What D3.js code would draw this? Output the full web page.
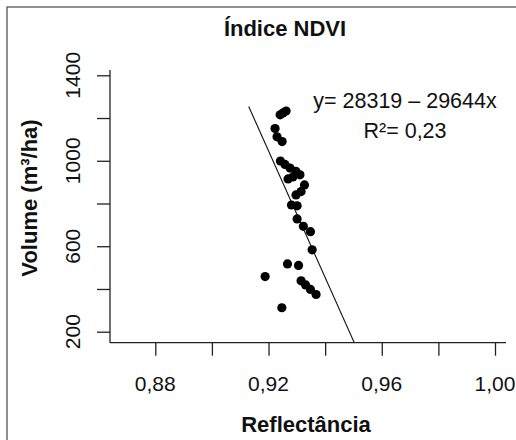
<!DOCTYPE html>
<html>
<head>
<meta charset="utf-8">
<script src="https://cdn.jsdelivr.net/npm/d3@7"></script>
<style>
  body { margin: 0; background: #fff; }
  text { font-family: Arial, "Liberation Sans", sans-serif; fill: #111; }
</style>
</head>
<body>
<div id="chart"></div>
<script>
// data
var reflect = [0.9241, 0.9251, 0.9262, 0.9223, 0.9230, 0.9248, 0.9242, 0.9258, 0.9276, 0.9297,
               0.9311, 0.9286, 0.9269, 0.9327, 0.9315, 0.9297, 0.9281, 0.9301, 0.9301, 0.9323,
               0.9348, 0.9354, 0.9267, 0.9306, 0.9188, 0.9315, 0.9331, 0.9348, 0.9368, 0.9247];
var volume = [1215, 1224, 1233, 1151, 1112, 1090, 999, 983, 966, 950,
              934, 924, 915, 887, 856, 840, 793, 789, 728, 693,
              668, 583, 517, 510, 458, 438, 419, 398, 374, 312];

var xTicks = [0.88, 0.90, 0.92, 0.94, 0.96, 0.98, 1.00];
var xLabels = [0.88, 0.92, 0.96, 1.00];
var yTicks = [200, 400, 600, 800, 1000, 1200, 1400];
var yLabels = [200, 600, 1000, 1400];

var intercept = 28319, slope = -29644;
var fitRange = [0.913, 0.96];

var width = 516, height = 440;
var plot = { left: 110, right: 506, top: 70, bottom: 342.7 };

var svg = d3.select("#chart").append("svg")
    .attr("width", width)
    .attr("height", height);

// outer frame (cut by the picture on right and bottom)
svg.append("rect")
    .attr("x", 7).attr("y", 7)
    .attr("width", width).attr("height", height)
    .attr("fill", "none")
    .attr("stroke", "#555")
    .attr("stroke-width", 1.3);

var x = d3.scaleLinear().domain([0.88, 1.00]).range([155.3, 495]);
var y = d3.scaleLinear().domain([200, 1400]).range([331.7, 75.3]);

var comma = function(d) { return d3.format(".2f")(d).replace(".", ","); };

// x axis ticks
var xAxis = svg.append("g")
    .attr("transform", "translate(0," + plot.bottom + ")")
    .call(d3.axisBottom(x).tickValues(xTicks).tickSize(13).tickSizeOuter(0).tickFormat(""));
xAxis.select(".domain").remove();
xAxis.selectAll("line").attr("stroke", "#222").attr("stroke-width", 1.3);

svg.selectAll(".xlab")
    .data(xLabels)
    .enter().append("text")
    .attr("class", "xlab")
    .attr("x", function(d) { return x(d); })
    .attr("y", plot.bottom + 48.5)
    .attr("text-anchor", "middle")
    .style("font-size", "21px")
    .text(comma);

// y axis ticks
var yAxis = svg.append("g")
    .attr("transform", "translate(" + plot.left + ",0)")
    .call(d3.axisLeft(y).tickValues(yTicks).tickSize(13).tickSizeOuter(0).tickFormat(""));
yAxis.select(".domain").remove();
yAxis.selectAll("line").attr("stroke", "#222").attr("stroke-width", 1.3);

svg.selectAll(".ylab")
    .data(yLabels)
    .enter().append("text")
    .attr("class", "ylab")
    .attr("transform", function(d) { return "translate(80," + y(d) + ") rotate(-90)"; })
    .attr("text-anchor", "middle")
    .style("font-size", "21px")
    .text(function(d) { return d; });

// axis lines
svg.append("line")
    .attr("x1", plot.left).attr("x2", plot.right)
    .attr("y1", plot.bottom).attr("y2", plot.bottom)
    .attr("stroke", "#222").attr("stroke-width", 1.3);
svg.append("line")
    .attr("x1", plot.left).attr("x2", plot.left)
    .attr("y1", plot.top).attr("y2", plot.bottom)
    .attr("stroke", "#222").attr("stroke-width", 1.3);

// fitted line, clipped to the plot region
svg.append("clipPath").attr("id", "clip")
    .append("rect")
    .attr("x", plot.left).attr("y", plot.top)
    .attr("width", plot.right - plot.left).attr("height", plot.bottom - plot.top);

svg.append("line")
    .attr("clip-path", "url(#clip)")
    .attr("x1", x(fitRange[0])).attr("y1", y(intercept + slope * fitRange[0]))
    .attr("x2", x(fitRange[1])).attr("y2", y(intercept + slope * fitRange[1]))
    .attr("stroke", "#111").attr("stroke-width", 1.1);

// points
svg.selectAll(".pt")
    .data(reflect)
    .enter().append("circle")
    .attr("class", "pt")
    .attr("cx", function(d) { return x(d); })
    .attr("cy", function(d, i) { return y(volume[i]); })
    .attr("r", 4.6)
    .attr("fill", "#000");

// texts
svg.append("text")
    .attr("x", 285).attr("y", 36)
    .attr("text-anchor", "middle")
    .style("font-size", "22px").style("font-weight", "bold")
    .text("Índice NDVI");

svg.append("text")
    .attr("x", 306).attr("y", 432)
    .attr("text-anchor", "middle")
    .style("font-size", "22px").style("font-weight", "bold")
    .text("Reflectância");

svg.append("text")
    .attr("transform", "translate(36.5,198) rotate(-90)")
    .attr("text-anchor", "middle")
    .style("font-size", "22px").style("font-weight", "bold")
    .text("Volume (m³/ha)");

svg.append("text")
    .attr("x", 405).attr("y", 108)
    .attr("text-anchor", "middle")
    .style("font-size", "21.5px")
    .text("y= " + intercept + " – " + Math.abs(slope) + "x");

svg.append("text")
    .attr("x", 405).attr("y", 138)
    .attr("text-anchor", "middle")
    .style("font-size", "21.5px")
    .text("R²= 0,23");
</script>
</body>
</html>
